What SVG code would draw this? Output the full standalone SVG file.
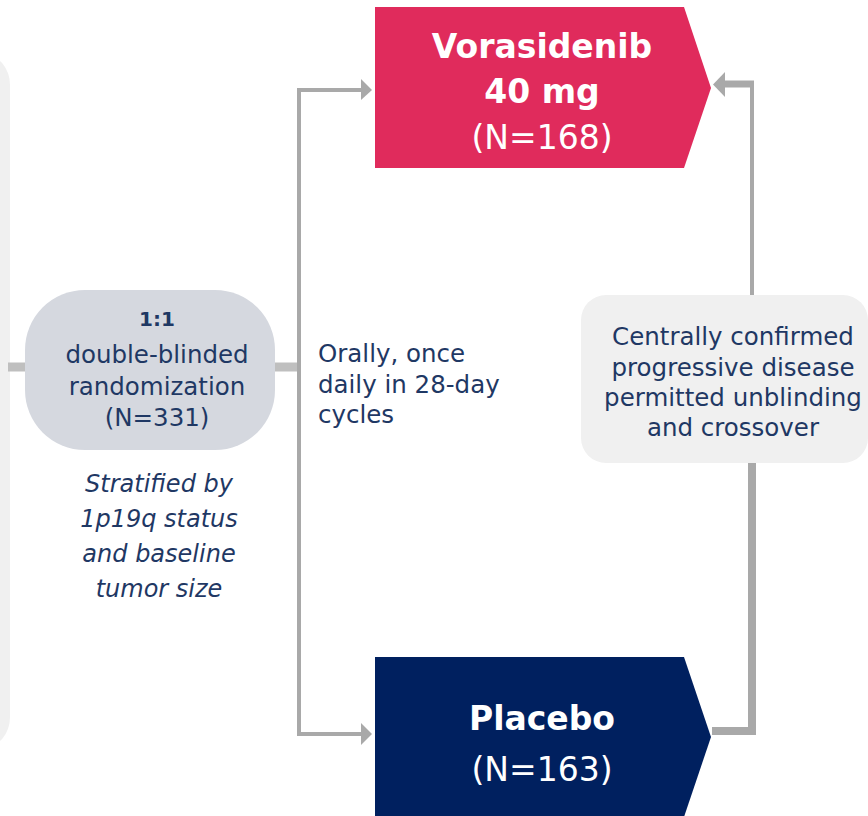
<svg xmlns="http://www.w3.org/2000/svg" width="868" height="816" viewBox="0 0 868 816">
<defs>
<style>
.body{font-family:"DejaVu Sans","Liberation Sans",sans-serif;font-size:24.5px;fill:#1f3864;text-anchor:middle}
.ital{font-family:"DejaVu Sans","Liberation Sans",sans-serif;font-size:24px;font-style:italic;fill:#1f3864;text-anchor:middle}
.title{font-family:"DejaVu Sans","Liberation Sans",sans-serif;font-size:33px;font-weight:bold;fill:#ffffff;text-anchor:middle}
.sub{font-family:"DejaVu Sans","Liberation Sans",sans-serif;font-size:33px;fill:#ffffff;text-anchor:middle}
.ln{fill:none;stroke:#a9a9a9;stroke-linejoin:miter}
</style>
</defs>
<rect width="868" height="816" fill="#ffffff"/>
<g id="left-panel"><rect x="-40" y="55" width="50" height="692" rx="30" fill="#f0f0f0"/></g>
<g id="connectors">
<line x1="8" y1="367" x2="30" y2="367" stroke="#bfbfbf" stroke-width="9"/>
<line x1="270" y1="367" x2="299" y2="367" stroke="#bfbfbf" stroke-width="9"/>
<polyline class="ln" stroke-width="4" points="363,90 299,90 299,734 363,734"/>
<polygon points="361,79 372,90 361,100" fill="#a9a9a9"/>
<polygon points="361,723 372,734 361,745" fill="#a9a9a9"/>
<polyline class="ln" stroke-width="8" points="712,731 752,731 752,460"/>
<polyline class="ln" stroke-width="4" points="752,296 752,84"/>
<line x1="724" y1="84" x2="754" y2="84" stroke="#a9a9a9" stroke-width="7"/>
<polygon points="713,84.5 725,72 725,97" fill="#a9a9a9"/>
</g>
<g id="randomization">
<rect x="25" y="290" width="250" height="160" rx="60" fill="#d5d8df"/>
<text x="157" y="326" class="body" style="font-weight:bold;font-size:20px">1:1</text>
<text x="157" y="363" class="body">double-blinded</text>
<text x="157" y="395" class="body">randomization</text>
<text x="157" y="426" class="body">(N=331)</text>
</g>
<g id="stratified">
<text x="159" y="492" class="ital">Stratified by</text>
<text x="159" y="527" class="ital">1p19q status</text>
<text x="159" y="562" class="ital">and baseline</text>
<text x="159" y="597" class="ital">tumor size</text>
</g>
<g id="dosing">
<text x="318" y="362" class="body" style="text-anchor:start">Orally, once</text>
<text x="318" y="393" class="body" style="text-anchor:start">daily in 28-day</text>
<text x="318" y="423" class="body" style="text-anchor:start">cycles</text>
</g>
<g id="vorasidenib">
<polygon points="375,7 684,7 711,88 684,168 375,168" fill="#e02b5c"/>
<text x="542" y="58" class="title">Vorasidenib</text>
<text x="542" y="103" class="title">40 mg</text>
<text x="542" y="149" class="sub">(N=168)</text>
</g>
<g id="placebo">
<polygon points="375,657 684,657 711,737 684,817 375,817" fill="#00205f"/>
<text x="542" y="730" class="title">Placebo</text>
<text x="542" y="781" class="sub">(N=163)</text>
</g>
<g id="crossover">
<rect x="581" y="295" width="287" height="168" rx="25" fill="#f0f0f0"/>
<text x="733" y="345" class="body">Centrally confirmed</text>
<text x="733" y="376" class="body">progressive disease</text>
<text x="733" y="406" class="body">permitted unblinding</text>
<text x="733" y="436" class="body">and crossover</text>
</g>
</svg>
